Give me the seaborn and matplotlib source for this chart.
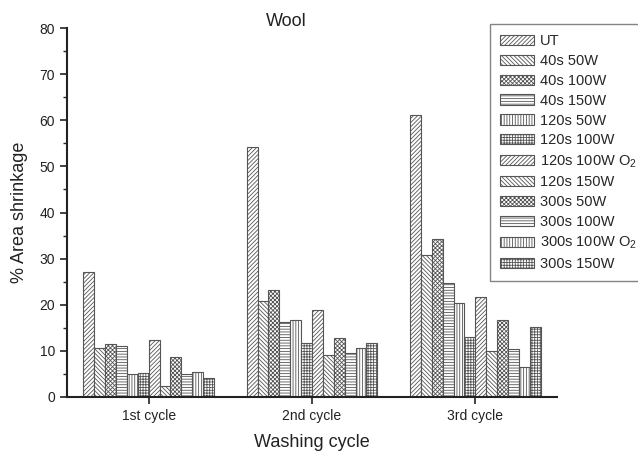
import matplotlib
matplotlib.use("Agg")
import matplotlib.pyplot as plt
import seaborn as sns
import pandas as pd
from matplotlib.ticker import MultipleLocator

cycles = ["1st cycle", "2nd cycle", "3rd cycle"]
treatments = ["UT", "40s 50W", "40s 100W", "40s 150W", "120s 50W", "120s 100W",
              "120s 100W O$_2$", "120s 150W", "300s 50W", "300s 100W",
              "300s 100W O$_2$", "300s 150W"]

ut = [27.1, 54.2, 61.2]
s40_50 = [10.7, 20.8, 30.7]
s40_100 = [11.4, 23.2, 34.2]
s40_150 = [11.0, 16.2, 24.8]
s120_50 = [4.9, 16.7, 20.4]
s120_100 = [5.1, 11.8, 12.9]
s120_100_o2 = [12.3, 18.8, 21.7]
s120_150 = [2.4, 9.0, 10.0]
s300_50 = [8.6, 12.7, 16.6]
s300_100 = [5.0, 9.5, 10.4]
s300_100_o2 = [5.4, 10.6, 6.5]
s300_150 = [4.2, 11.8, 15.1]

series = [ut, s40_50, s40_100, s40_150, s120_50, s120_100, s120_100_o2,
          s120_150, s300_50, s300_100, s300_100_o2, s300_150]

rows = []
for name, vals in zip(treatments, series):
    for c, v in zip(cycles, vals):
        rows.append({"cycle": c, "treatment": name, "value": v})
df = pd.DataFrame(rows)

hatches = ["////////", "\\\\\\\\\\\\\\\\", "xxxxxxxx", "------", "||||||", "++++++",
           "////////", "\\\\\\\\\\\\\\\\", "xxxxxxxx", "------", "||||||", "++++++"]

sns.set_style("ticks")
plt.rcParams["font.family"] = ["Liberation Sans", "DejaVu Sans"]
plt.rcParams["mathtext.fontset"] = "custom"
plt.rcParams["mathtext.rm"] = "Liberation Sans"
plt.rcParams["mathtext.default"] = "regular"
plt.rcParams["hatch.color"] = "#666666"
plt.rcParams["hatch.linewidth"] = 0.6

fig = plt.figure(figsize=(6.38, 4.53), dpi=100)
ax = fig.add_axes([67/638, 1-397/453, (557-67)/638, (397-28)/453])

sns.barplot(data=df, x="cycle", y="value", hue="treatment", order=cycles,
            hue_order=treatments, ax=ax, width=0.8,
            palette=["white"]*12, edgecolor="#555555", linewidth=0.8,
            legend=False, err_kws={"linewidth": 0})

for cont, h in zip(ax.containers, hatches):
    for p in cont:
        p.set_hatch(h)
        p.set_facecolor("white")
        p.set_edgecolor("#555555")

ax.set_xlim(-0.5, 2.5)
ax.set_ylim(0, 80)
ax.yaxis.set_major_locator(MultipleLocator(10))
ax.yaxis.set_minor_locator(MultipleLocator(5))
ax.tick_params(axis="both", which="major", direction="out", length=5,
               width=1.2, labelsize=10, colors="#222222")
ax.tick_params(axis="y", which="minor", direction="out", length=3, width=1.0)
for s in ["top", "right"]:
    ax.spines[s].set_visible(False)
for s in ["left", "bottom"]:
    ax.spines[s].set_linewidth(1.5)
    ax.spines[s].set_color("#222222")

ax.set_xlabel("Washing cycle", fontsize=13, color="#222222", labelpad=8)
ax.set_ylabel("% Area shrinkage", fontsize=13, color="#222222", labelpad=8)

fig.text(286/638, 1-22/453, "Wool", ha="center", va="center", fontsize=13,
         color="#222222")

handles = [cont for cont in ax.containers]
leg = fig.legend(handles, treatments, loc="upper left",
                 bbox_to_anchor=(490/638, 1-24/453), fancybox=False,
                 frameon=True, fontsize=10.5, handlelength=2.3, handleheight=0.7,
                 labelspacing=0.4, borderpad=0.7, handletextpad=0.4,
                 borderaxespad=0)
leg.get_frame().set_edgecolor("#666666")
leg.get_frame().set_linewidth(1.0)

fig.savefig("out.png", dpi=100)
